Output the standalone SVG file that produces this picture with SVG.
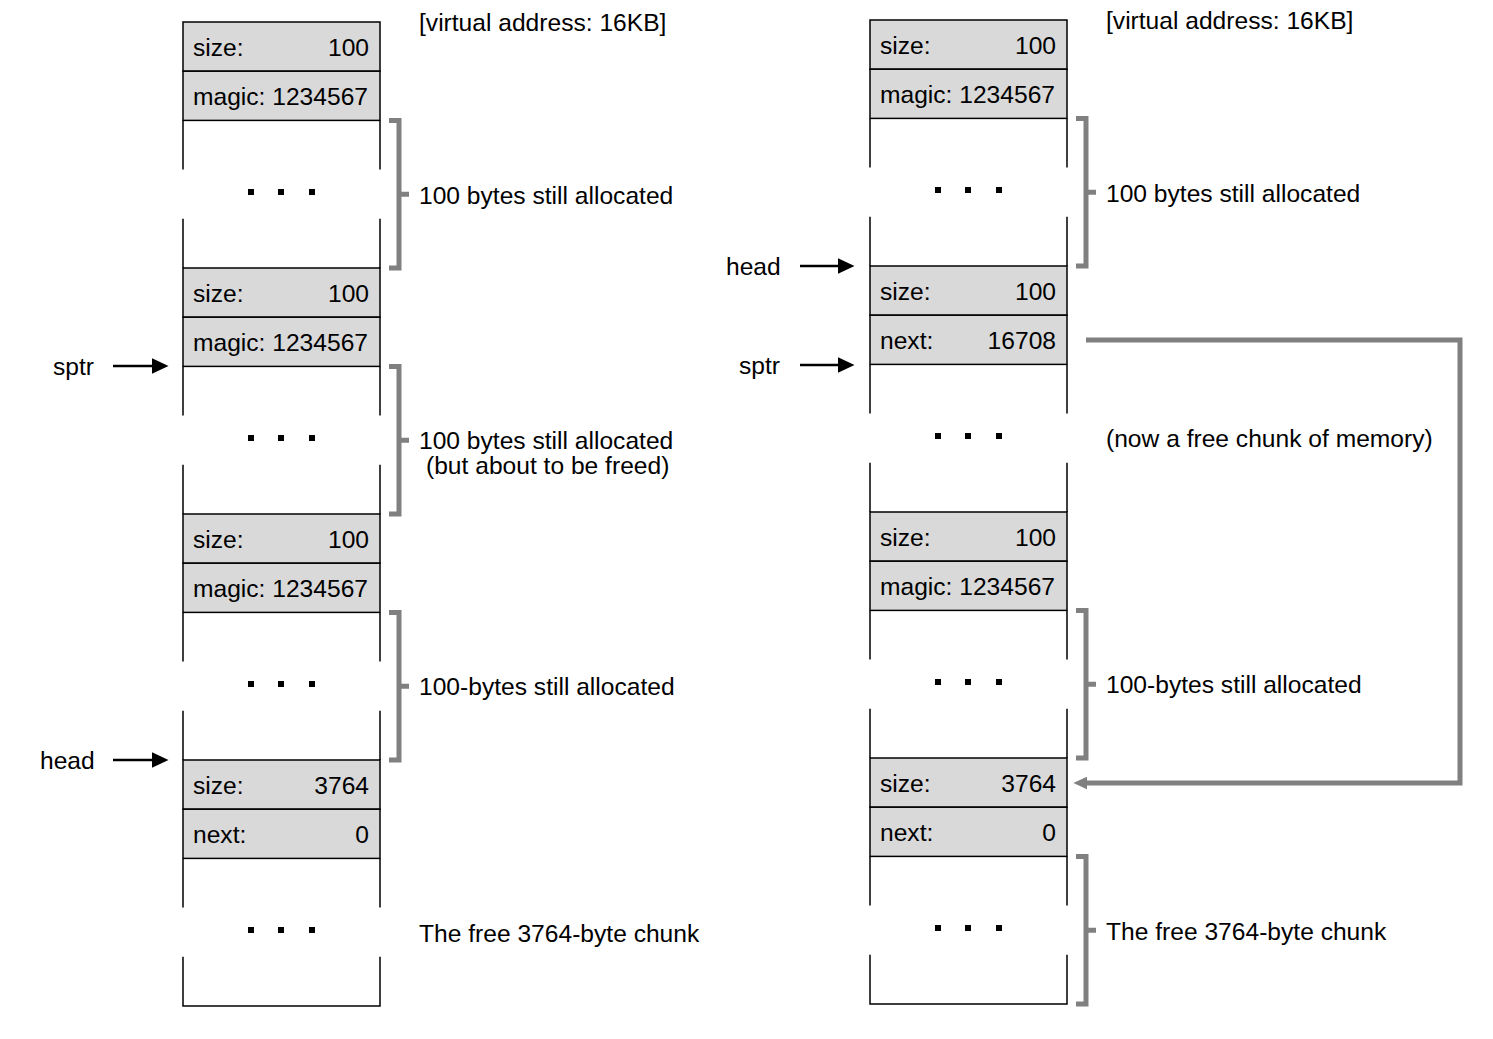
<svg xmlns="http://www.w3.org/2000/svg" width="1493" height="1039" viewBox="0 0 1493 1039">
  <style>
    text { font-family: "Liberation Sans", Arial, sans-serif; font-size: 24.6px; fill: #000; }
    .r { text-anchor: end; }
    .hdr { fill: #d9d9d9; stroke: #000; stroke-width: 1.5; }
    .side { stroke: #000; stroke-width: 1.5; fill: none; }
    .dot { fill: #000; }
    .brk { stroke: #808080; stroke-width: 5; fill: none; stroke-linejoin: miter; }
    .ptr { stroke: #000; stroke-width: 2.5; fill: none; }
    .link { stroke: #808080; stroke-width: 5; fill: none; stroke-linejoin: miter; }
  </style>
  <defs>
    <marker id="ah" markerUnits="userSpaceOnUse" markerWidth="17" markerHeight="16" viewBox="0 0 16 15" refX="8" refY="7.5" orient="auto">
      <path d="M0,0 L16,7.5 L0,15 z" fill="#000"/>
    </marker>
    <marker id="ahg" markerUnits="userSpaceOnUse" markerWidth="14" markerHeight="13" viewBox="0 0 13 12" refX="5" refY="6" orient="auto">
      <path d="M0,0 L13,6 L0,12 z" fill="#808080"/>
    </marker>
  </defs>

  <!-- ===== Left heap: before free() ===== -->
  <g id="left-block-1">
    <rect class="hdr" x="183" y="22" width="197" height="49.2"/>
    <rect class="hdr" x="183" y="71.2" width="197" height="49.2"/>
    <text x="193" y="56">size:</text><text class="r" x="369" y="56">100</text>
    <text x="193" y="105">magic: 1234567</text>
    <path class="side" d="M183,120.4V169.6M183,218.8V268M380,120.4V169.6M380,218.8V268"/>
    <rect class="dot" x="248" y="189" width="6" height="6"/><rect class="dot" x="278" y="189" width="6" height="6"/><rect class="dot" x="309" y="189" width="6" height="6"/>
  </g>
  <g id="left-block-2">
    <rect class="hdr" x="183" y="268" width="197" height="49.2"/>
    <rect class="hdr" x="183" y="317.2" width="197" height="49.2"/>
    <text x="193" y="302">size:</text><text class="r" x="369" y="302">100</text>
    <text x="193" y="351">magic: 1234567</text>
    <path class="side" d="M183,366.4V415.6M183,464.8V514M380,366.4V415.6M380,464.8V514"/>
    <rect class="dot" x="248" y="435" width="6" height="6"/><rect class="dot" x="278" y="435" width="6" height="6"/><rect class="dot" x="309" y="435" width="6" height="6"/>
  </g>
  <g id="left-block-3">
    <rect class="hdr" x="183" y="514" width="197" height="49.2"/>
    <rect class="hdr" x="183" y="563.2" width="197" height="49.2"/>
    <text x="193" y="548">size:</text><text class="r" x="369" y="548">100</text>
    <text x="193" y="597">magic: 1234567</text>
    <path class="side" d="M183,612.4V661.6M183,710.8V760M380,612.4V661.6M380,710.8V760"/>
    <rect class="dot" x="248" y="681" width="6" height="6"/><rect class="dot" x="278" y="681" width="6" height="6"/><rect class="dot" x="309" y="681" width="6" height="6"/>
  </g>
  <g id="left-free-chunk">
    <rect class="hdr" x="183" y="760" width="197" height="49.2"/>
    <rect class="hdr" x="183" y="809.2" width="197" height="49.2"/>
    <text x="193" y="794">size:</text><text class="r" x="369" y="794">3764</text>
    <text x="193" y="843">next:</text><text class="r" x="369" y="843">0</text>
    <path class="side" d="M183,858.4V907.6M183,956.8V1006H380V956.8M380,858.4V907.6"/>
    <rect class="dot" x="248" y="927" width="6" height="6"/><rect class="dot" x="278" y="927" width="6" height="6"/><rect class="dot" x="309" y="927" width="6" height="6"/>
  </g>

  <g id="left-brackets">
    <path class="brk" d="M389,120.4H399V268H389M399,194.2H409"/>
    <path class="brk" d="M389,366.4H399V514H389M399,440.2H409"/>
    <path class="brk" d="M389,612.4H399V760H389M399,686.2H409"/>
  </g>

  <g id="left-labels">
    <text x="419" y="31">[virtual address: 16KB]</text>
    <text x="419" y="204">100 bytes still allocated</text>
    <text x="419" y="449">100 bytes still allocated</text>
    <text x="426" y="474">(but about to be freed)</text>
    <text x="419" y="695">100-bytes still allocated</text>
    <text x="419" y="942">The free 3764-byte chunk</text>
    <text x="53" y="375">sptr</text>
    <text x="40" y="769">head</text>
  </g>

  <!-- ===== Right heap: after free() ===== -->
  <g id="right-block-1">
    <rect class="hdr" x="870" y="20" width="197" height="49.2"/>
    <rect class="hdr" x="870" y="69.2" width="197" height="49.2"/>
    <text x="880" y="54">size:</text><text class="r" x="1056" y="54">100</text>
    <text x="880" y="103">magic: 1234567</text>
    <path class="side" d="M870,118.4V167.6M870,216.8V266M1067,118.4V167.6M1067,216.8V266"/>
    <rect class="dot" x="935" y="187" width="6" height="6"/><rect class="dot" x="965" y="187" width="6" height="6"/><rect class="dot" x="996" y="187" width="6" height="6"/>
  </g>
  <g id="right-freed-chunk">
    <rect class="hdr" x="870" y="266" width="197" height="49.2"/>
    <rect class="hdr" x="870" y="315.2" width="197" height="49.2"/>
    <text x="880" y="300">size:</text><text class="r" x="1056" y="300">100</text>
    <text x="880" y="349">next:</text><text class="r" x="1056" y="349">16708</text>
    <path class="side" d="M870,364.4V413.6M870,462.8V512M1067,364.4V413.6M1067,462.8V512"/>
    <rect class="dot" x="935" y="433" width="6" height="6"/><rect class="dot" x="965" y="433" width="6" height="6"/><rect class="dot" x="996" y="433" width="6" height="6"/>
  </g>
  <g id="right-block-3">
    <rect class="hdr" x="870" y="512" width="197" height="49.2"/>
    <rect class="hdr" x="870" y="561.2" width="197" height="49.2"/>
    <text x="880" y="546">size:</text><text class="r" x="1056" y="546">100</text>
    <text x="880" y="595">magic: 1234567</text>
    <path class="side" d="M870,610.4V659.6M870,708.8V758M1067,610.4V659.6M1067,708.8V758"/>
    <rect class="dot" x="935" y="679" width="6" height="6"/><rect class="dot" x="965" y="679" width="6" height="6"/><rect class="dot" x="996" y="679" width="6" height="6"/>
  </g>
  <g id="right-free-chunk">
    <rect class="hdr" x="870" y="758" width="197" height="49.2"/>
    <rect class="hdr" x="870" y="807.2" width="197" height="49.2"/>
    <text x="880" y="792">size:</text><text class="r" x="1056" y="792">3764</text>
    <text x="880" y="841">next:</text><text class="r" x="1056" y="841">0</text>
    <path class="side" d="M870,856.4V905.6M870,954.8V1004H1067V954.8M1067,856.4V905.6"/>
    <rect class="dot" x="935" y="925" width="6" height="6"/><rect class="dot" x="965" y="925" width="6" height="6"/><rect class="dot" x="996" y="925" width="6" height="6"/>
  </g>

  <g id="right-brackets">
    <path class="brk" d="M1076,118.4H1086V266H1076M1086,192.2H1096"/>
    <path class="brk" d="M1076,610.4H1086V758H1076M1086,684.2H1096"/>
    <path class="brk" d="M1076,856.4H1086V1004H1076M1086,930.2H1096"/>
  </g>

  <g id="right-labels">
    <text x="1106" y="29">[virtual address: 16KB]</text>
    <text x="1106" y="202">100 bytes still allocated</text>
    <text x="1106" y="447">(now a free chunk of memory)</text>
    <text x="1106" y="693">100-bytes still allocated</text>
    <text x="1106" y="940">The free 3764-byte chunk</text>
    <text x="726" y="275">head</text>
    <text x="739" y="374">sptr</text>
  </g>

  <!-- pointers and free-list link -->
  <g id="connectors">
    <path class="ptr" d="M113,366H160" marker-end="url(#ah)"/>
    <path class="ptr" d="M113,760H160" marker-end="url(#ah)"/>
    <path class="ptr" d="M800,266H846" marker-end="url(#ah)"/>
    <path class="ptr" d="M800,365H846" marker-end="url(#ah)"/>
    <path class="link" d="M1086,340H1460V783H1082" marker-end="url(#ahg)"/>
  </g>
</svg>
